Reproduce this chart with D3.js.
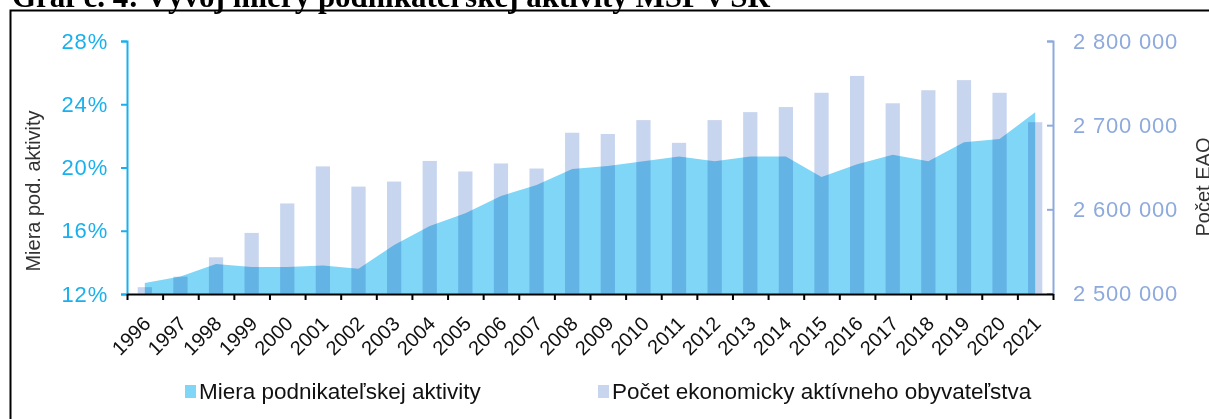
<!DOCTYPE html>
<html>
<head>
<meta charset="utf-8">
<script src="https://cdn.jsdelivr.net/npm/d3@7"></script>
<style>
  body { margin: 0; background: #fff; }
  svg { display: block; font-family: "Liberation Sans", Arial, sans-serif; }
</style>
</head>
<body>
<div id="chart"></div>
<script>
// data
const years = ["1996","1997","1998","1999","2000","2001","2002","2003","2004","2005","2006","2007","2008",
               "2009","2010","2011","2012","2013","2014","2015","2016","2017","2018","2019","2020","2021"];
const miera = [12.7, 13.1, 13.9, 13.7, 13.7, 13.8, 13.6, 15.1, 16.3, 17.1, 18.2, 18.9, 19.9,
               20.1, 20.4, 20.7, 20.4, 20.7, 20.7, 19.4, 20.2, 20.8, 20.4, 21.6, 21.8, 23.5];
const eao = [2507500, 2520000, 2543000, 2572000, 2607000, 2651000, 2627000, 2633000, 2657500, 2645000,
             2654500, 2648500, 2691000, 2689500, 2706000, 2679000, 2706000, 2715500, 2721500, 2738500,
             2758500, 2726000, 2741500, 2753500, 2738500, 2703500];
const leftTicks = [12, 16, 20, 24, 28];
const rightTicks = [2500000, 2600000, 2700000, 2800000];
const legendLabels = ["Miera podnikateľskej aktivity", "Počet ekonomicky aktívneho obyvateľstva"];

const W = 1209, H = 419;
const colArea = "#7fd6f6", colBar = "#c8d5ee";
const colLeft = "#19b0ee", colRight = "#8eaadc";

var svg = d3.select("#chart").append("svg")
  .attr("width", W)
  .attr("height", H);

// title (cut off at top) and frame
svg.append("text")
  .attr("x", 12)
  .attr("y", 7)
  .style("font-family", '"Liberation Serif", "Times New Roman", serif')
  .style("font-weight", "bold")
  .style("font-size", "31px")
  .text("Graf č. 4: Vývoj miery podnikateľskej aktivity MSP v SR");

svg.append("rect")
  .attr("x", 10.5).attr("y", 10.5)
  .attr("width", 1300).attr("height", 600)
  .attr("fill", "none")
  .attr("stroke", "#000")
  .attr("stroke-width", 2);

// scales
const x = d3.scaleBand().domain(years).range([127, 1053]).padding(0);
const xi = d3.scaleLinear().domain([0, years.length]).range([127, 1053]);
const yL = d3.scaleLinear().domain([12, 28]).range([294, 41]);
const yR = d3.scaleLinear().domain([2500000, 2800000]).range([293.5, 41]);
const cx = d => x(d) + x.bandwidth() / 2;

// area
const area = d3.area()
  .x((d, i) => cx(years[i]))
  .y0(yL(12))
  .y1(d => yL(d));

svg.append("path")
  .datum(miera)
  .attr("d", area)
  .attr("fill", colArea);

// bars on top, multiplied with area
const bw = x.bandwidth() * 0.4;
svg.append("g")
  .selectAll("rect")
  .data(eao)
  .enter()
  .append("rect")
  .attr("x", (d, i) => cx(years[i]) - bw / 2)
  .attr("y", d => yR(d))
  .attr("width", bw)
  .attr("height", d => yR(2500000) - yR(d))
  .attr("fill", colBar)
  .style("mix-blend-mode", "multiply");

// left axis
const gl = svg.append("g")
  .attr("transform", "translate(127,0)")
  .call(d3.axisLeft(yL).tickValues(leftTicks).tickFormat(d => d + "%").tickSize(6).tickPadding(13));
gl.selectAll("path, line").attr("stroke", colLeft).attr("stroke-width", 2);
gl.selectAll("text")
  .attr("fill", colLeft)
  .style("font-size", "22px")
  .style("letter-spacing", "0.8px")
  .style("font-family", '"Liberation Sans", Arial, sans-serif');

// right axis
const fmt = d => d3.format(",")(d).replace(/,/g, " ");
const gr = svg.append("g")
  .attr("transform", "translate(1053,0)")
  .call(d3.axisRight(yR).tickValues(rightTicks).tickFormat(fmt).tickSizeInner(-6).tickSizeOuter(-6).tickPadding(20));
gr.selectAll("path, line").attr("stroke", colRight).attr("stroke-width", 2);
gr.selectAll("text")
  .attr("fill", colRight)
  .style("font-size", "22px")
  .style("letter-spacing", "0.8px")
  .style("font-family", '"Liberation Sans", Arial, sans-serif');

// bottom axis, ticks between categories
const gb = svg.append("g")
  .attr("transform", "translate(0,294)")
  .call(d3.axisBottom(xi).tickValues(d3.range(years.length + 1)).tickFormat("").tickSize(6).tickSizeOuter(0));
gb.selectAll("path, line").attr("stroke", "#000").attr("stroke-width", 2);

svg.append("g")
  .selectAll("text")
  .data(years)
  .enter()
  .append("text")
  .attr("transform", d => `translate(${cx(d) + 2},320) rotate(-45)`)
  .attr("text-anchor", "end")
  .attr("dominant-baseline", "central")
  .style("font-size", "20px")
  .attr("fill", "#111")
  .text(d => d);

// axis titles
svg.append("text")
  .attr("transform", "translate(40,191) rotate(-90)")
  .attr("text-anchor", "middle")
  .style("font-size", "20px")
  .attr("fill", "#333")
  .text("Miera pod. aktivity");

svg.append("text")
  .attr("transform", "translate(1210,187) rotate(-90)")
  .attr("text-anchor", "middle")
  .style("font-size", "20px")
  .attr("fill", "#333")
  .text("Počet EAO");

// legend
const legX = [185, 598];
const legCol = [colArea, colBar];
const leg = svg.append("g");
legendLabels.forEach((t, i) => {
  leg.append("rect")
    .attr("x", legX[i]).attr("y", 385)
    .attr("width", 11).attr("height", 13)
    .attr("fill", legCol[i]);
  leg.append("text")
    .attr("x", legX[i] + 14)
    .attr("y", 399)
    .style("font-size", "22.5px")
    .attr("fill", "#111")
    .text(t);
});
</script>
</body>
</html>
